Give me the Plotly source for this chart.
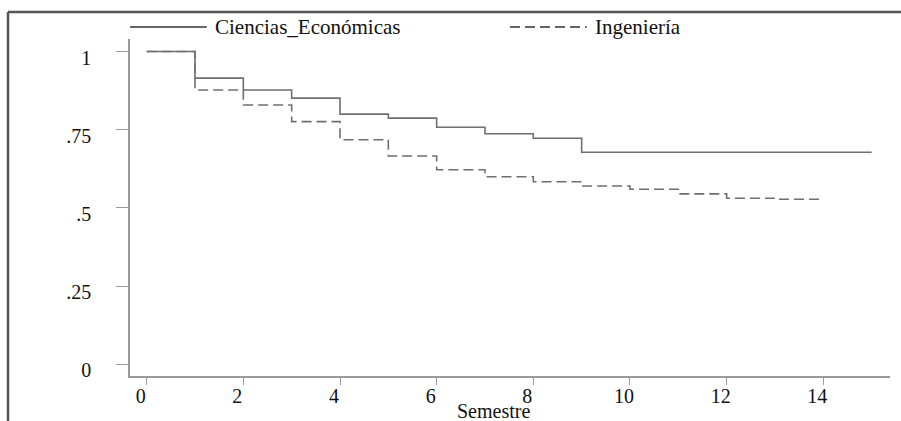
import plotly.graph_objects as go

# Data (Kaplan-Meier style survival)
semestre_ce = [0, 1, 2, 3, 4, 5, 6, 7, 8, 9, 15]
surv_ce = [1.0, 0.915, 0.877, 0.851, 0.800, 0.787, 0.758, 0.737, 0.723, 0.678, 0.678]

semestre_ing = [0, 1, 2, 3, 4, 5, 6, 7, 8, 9, 10, 11, 12, 13, 14]
surv_ing = [1.0, 0.877, 0.829, 0.776, 0.718, 0.666, 0.622, 0.600, 0.584, 0.570,
            0.560, 0.545, 0.531, 0.528, 0.528]

series_names = ["Ciencias_Económicas", "Ingeniería"]
x_ticks = [0, 2, 4, 6, 8, 10, 12, 14]
y_ticks = [0, 0.25, 0.5, 0.75, 1]
y_ticklabels = ["0", ".25", ".5", ".75", "1"]

LINE_COLOR = "#6f6f6f"
AXIS_COLOR = "#9a9a9a"
FONT = "Liberation Serif"

fig = go.Figure()
fig.add_trace(go.Scatter(x=semestre_ce, y=surv_ce, mode="lines", line_shape="hv",
                         name=series_names[0],
                         line=dict(color=LINE_COLOR, width=1.6)))
fig.add_trace(go.Scatter(x=semestre_ing, y=surv_ing, mode="lines", line_shape="hv",
                         name=series_names[1],
                         line=dict(color=LINE_COLOR, width=1.6, dash="10px,5px")))

# Manual legend (line samples + labels)
leg_y = 1.0356
fig.add_shape(type="line", xref="paper", yref="paper", x0=0.0, x1=0.101, y0=leg_y, y1=leg_y,
              line=dict(color="#333333", width=1.6))
fig.add_shape(type="line", xref="paper", yref="paper", x0=0.5, x1=0.601, y0=leg_y, y1=leg_y,
              line=dict(color="#333333", width=1.6, dash="10px,5px"))
fig.add_annotation(text=series_names[0], xref="paper", yref="paper", x=0.109, y=leg_y,
                   xanchor="left", yanchor="middle", showarrow=False,
                   font=dict(family=FONT, size=21, color="#111111"))
fig.add_annotation(text=series_names[1], xref="paper", yref="paper", x=0.609, y=leg_y,
                   xanchor="left", yanchor="middle", showarrow=False,
                   font=dict(family=FONT, size=21, color="#111111"))

# Axis title
fig.add_annotation(text="Semestre", xref="paper", yref="paper", x=0.478, y=-0.103,
                   xanchor="center", yanchor="middle", showarrow=False,
                   font=dict(family=FONT, size=20, color="#111111"))

# Outer frame (top and left edges visible)
fig.add_shape(type="line", xref="paper", yref="paper", x0=-0.1605, x1=1.02, y0=1.080, y1=1.080,
              line=dict(color="#555555", width=2.5))
fig.add_shape(type="line", xref="paper", yref="paper", x0=-0.1605, x1=-0.1605, y0=1.080, y1=-0.14,
              line=dict(color="#555555", width=2.5))

fig.update_layout(
    width=901, height=421,
    margin=dict(l=130, r=11, t=39, b=45),
    paper_bgcolor="white", plot_bgcolor="white",
    showlegend=False,
    font=dict(family=FONT, size=20, color="#111111"),
)
fig.update_xaxes(range=[-0.345, 15.38], tickvals=x_ticks, ticks="outside", ticklen=7,
                 tickcolor=AXIS_COLOR, showline=True, linecolor=AXIS_COLOR, linewidth=1.5,
                 showgrid=False, zeroline=False, ticklabelshift=-6, ticklabelstandoff=-6,
                 tickfont=dict(family=FONT, size=20, color="#111111"))
fig.update_yaxes(range=[-0.037, 1.04], tickvals=y_ticks, ticktext=y_ticklabels,
                 ticks="outside", ticklen=12, tickcolor=AXIS_COLOR, showline=True,
                 linecolor=AXIS_COLOR, linewidth=1.5, showgrid=False, zeroline=False,
                 ticklabelshift=6, ticklabelstandoff=21,
                 tickfont=dict(family=FONT, size=20, color="#111111"))

fig.write_html("out.html", config={"displayModeBar": False},
               post_script="document.body.style.margin='0px';")
